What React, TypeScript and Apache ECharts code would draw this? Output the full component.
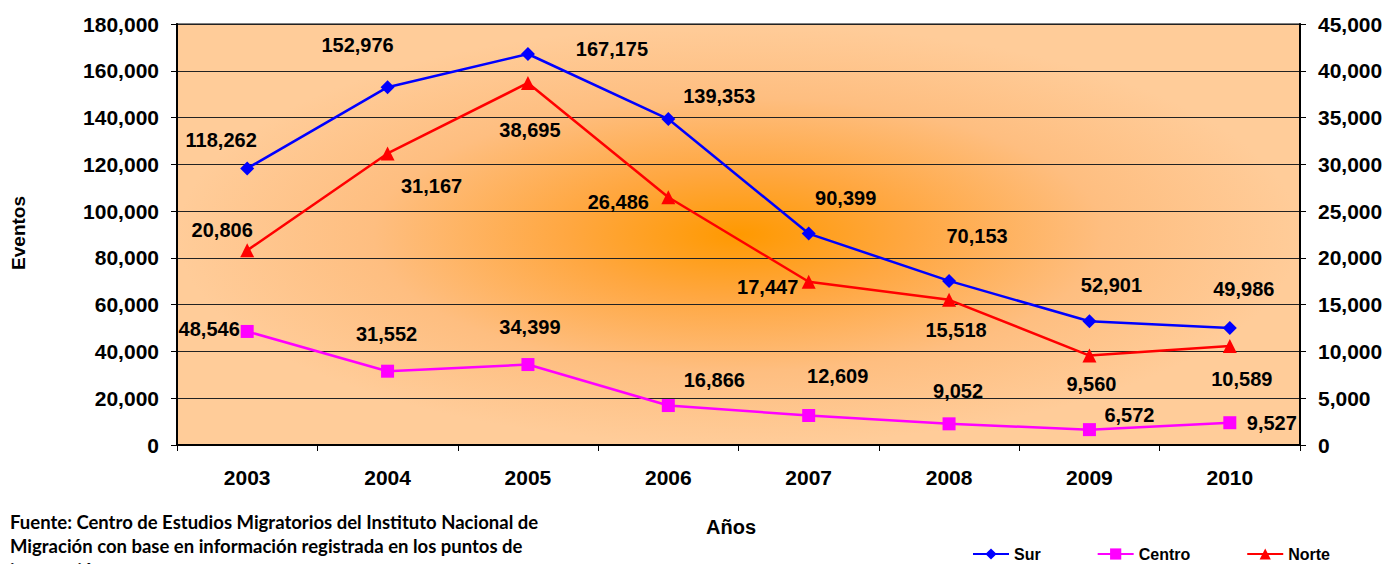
import React, { useEffect, useRef } from "react";
import * as echarts from "echarts";

const years = ["2003", "2004", "2005", "2006", "2007", "2008", "2009", "2010"];
const sur = [118262, 152976, 167175, 139353, 90399, 70153, 52901, 49986];
const centro = [48546, 31552, 34399, 16866, 12609, 9052, 6572, 9527];
const norte = [20806, 31167, 38695, 26486, 17447, 15518, 9560, 10589];

const surLabelOffsets = [[-26, -28], [-30, -42], [84, -5], [51, -23], [37, -36], [28, -45], [22, -36], [14, -39]];
const centroLabelOffsets = [[-38, -2], [-1, -37], [2, -38], [46, -26], [29, -40], [9, -33], [40, -15], [42, 0]];
const norteLabelOffsets = [[-25, -20], [44, 33], [2, 47], [-50, 5], [-41, 5], [7, 30], [2, 28], [12, 33]];

const FONT = "'Liberation Sans', Arial, sans-serif";
const fmt = (v: number) => v.toLocaleString("en-US");

export default function App() {
  const ref = useRef<HTMLDivElement>(null);
  useEffect(() => {
    document.body.style.margin = "0";
    const chart = echarts.init(ref.current!, null, { renderer: "svg" });
    const gl = 177, gt = 24, gw = 1123, gh = 421;
    const labelStyle = { show: true, position: "inside", color: "#000", fontFamily: FONT, fontWeight: "bold", fontSize: 20, formatter: (p: any) => fmt(p.value) };
    const mk = (vals: number[], offs: number[][]) => vals.map((v, i) => ({ value: v, label: { offset: offs[i] } }));
    chart.setOption({
      animation: false,
      grid: { left: gl, top: gt, width: gw, height: gh, containLabel: false, outerBoundsMode: "none", show: true, borderColor: "#808080", borderWidth: 2, backgroundColor: "transparent" },
      graphic: [
        {
          type: "rect", x: gl, y: gt, scaleX: 1, scaleY: gh / gw, z: -100, silent: true,
          shape: { x: 0, y: 0, width: gw, height: gw },
          style: {
            fill: new echarts.graphic.RadialGradient(0.5, 0.5, 0.5, [
              { offset: 0, color: "#FF9900" },
              { offset: 0.3, color: "#FFA740" },
              { offset: 0.65, color: "#FEBE80" },
              { offset: 1, color: "#FFCC99" },
            ]),
          },
        },
        { type: "text", left: 9, top: 196, rotation: Math.PI / 2, style: { text: "Eventos", fontFamily: FONT, fontWeight: "bold", fontSize: 19, fill: "#000" } },
        { type: "text", x: 731, y: 527, style: { text: "Años", fontFamily: FONT, fontWeight: "bold", fontSize: 20, fill: "#000", align: "center", verticalAlign: "middle" } },
        { type: "text", x: 10, y: 510, style: { text: "Fuente: Centro de Estudios Migratorios del Instituto Nacional de\nMigración con base en información registrada en los puntos de\ninternación.", fontFamily: "Lato, 'Open Sans', sans-serif", fontWeight: "bold", fontSize: 18.5, lineHeight: 24, fill: "#000" } },
      ],
      legend: {
        left: 972, top: 546, padding: 0, itemWidth: 36, itemHeight: 14, itemGap: 56,
        textStyle: { fontFamily: FONT, fontWeight: "bold", fontSize: 16, color: "#000" },
        data: ["Sur", "Centro", "Norte"],
      },
      xAxis: {
        type: "category", data: years, boundaryGap: true,
        axisLine: { lineStyle: { color: "#000", width: 2 } },
        axisTick: { show: true, inside: false, length: 6, lineStyle: { color: "#000" } },
        axisLabel: { color: "#000", fontFamily: FONT, fontWeight: "bold", fontSize: 21, margin: 22 },
      },
      yAxis: [
        {
          type: "value", min: 0, max: 180000, interval: 20000, position: "left",
          axisLine: { show: true, lineStyle: { color: "#000", width: 2 } },
          axisTick: { show: true, length: 6, lineStyle: { color: "#000" } },
          splitLine: { show: true, lineStyle: { color: "#222", width: 1 } },
          axisLabel: { color: "#000", fontFamily: FONT, fontWeight: "bold", fontSize: 21, margin: 18, formatter: (v: number) => fmt(v) },
        },
        {
          type: "value", min: 0, max: 45000, interval: 5000, position: "right",
          axisLine: { show: true, lineStyle: { color: "#000", width: 2 } },
          axisTick: { show: true, length: 6, lineStyle: { color: "#000" } },
          splitLine: { show: false },
          axisLabel: { color: "#000", fontFamily: FONT, fontWeight: "bold", fontSize: 21, margin: 18, formatter: (v: number) => fmt(v) },
        },
      ],
      series: [
        {
          name: "Sur", type: "line", yAxisIndex: 0, data: mk(sur, surLabelOffsets),
          symbol: "path://M0,-1L1,0L0,1L-1,0Z", symbolSize: 14,
          lineStyle: { color: "#0000FF", width: 2.5 }, itemStyle: { color: "#0000FF" },
          label: labelStyle, z: 5,
        },
        {
          name: "Centro", type: "line", yAxisIndex: 0, data: mk(centro, centroLabelOffsets),
          symbol: "rect", symbolSize: 13,
          lineStyle: { color: "#FF00FF", width: 2.5 }, itemStyle: { color: "#FF00FF" },
          label: labelStyle, z: 4,
        },
        {
          name: "Norte", type: "line", yAxisIndex: 1, data: mk(norte, norteLabelOffsets),
          symbol: "triangle", symbolSize: 14,
          lineStyle: { color: "#FF0000", width: 2.5 }, itemStyle: { color: "#FF0000" },
          label: labelStyle, z: 4,
        },
      ],
    });
    return () => chart.dispose();
  }, []);
  return <div ref={ref} style={{ width: 1387, height: 564 }} />;
}
